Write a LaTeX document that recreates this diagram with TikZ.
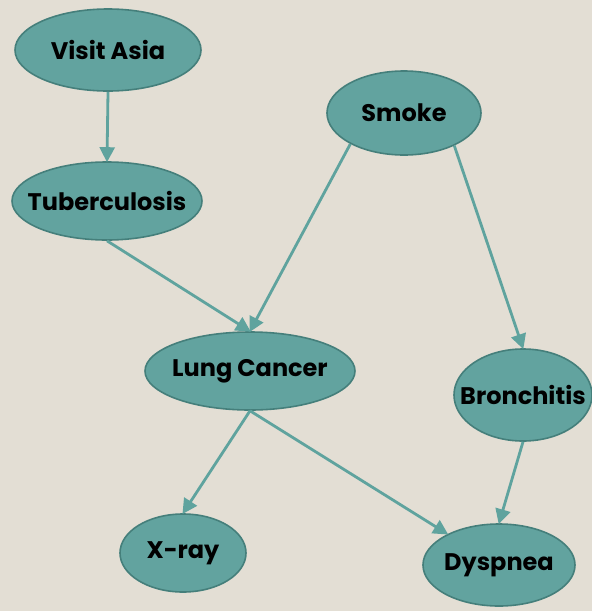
\documentclass[tikz,border=0pt]{standalone}
\usepackage{fontspec}
\setmainfont{Poppins}
\usetikzlibrary{shapes.geometric,arrows.meta}
\definecolor{bgc}{HTML}{E3DED4}
\definecolor{fillc}{HTML}{62A39F}
\definecolor{edgec}{HTML}{457F7B}
\definecolor{arrc}{HTML}{5FA39E}
\tikzset{
  ell/.style={ellipse, draw=edgec, line width=1.6pt, fill=fillc, inner sep=0pt},
  lbl/.style={font=\fontsize{24}{28}\selectfont\bfseries, text=black, inner sep=0pt},
  conn/.style={draw=arrc, line width=2.8pt, -{Triangle[length=15pt,width=15pt]}, shorten >=-1pt}
}
\begin{document}
\begin{tikzpicture}[x=1pt,y=-1pt]
\fill[bgc] (0,0) rectangle (592,611);
\useasboundingbox (0,0) rectangle (592,611);
\node[ell, minimum width=186pt, minimum height=82pt, label={[lbl]center:Visit Asia}] (va) at (108,50) {};
\node[ell, minimum width=190pt, minimum height=78pt, label={[lbl]center:Tuberculosis}] (tb) at (107,201) {};
\node[ell, minimum width=154pt, minimum height=84pt, label={[lbl]center:Smoke}] (sm) at (404,113) {};
\node[ell, minimum width=210pt, minimum height=78pt, label={[lbl]center:Lung Cancer}] (lc) at (250,371) {};
\node[ell, minimum width=138pt, minimum height=92pt, label={[lbl]center:Bronchitis}] (br) at (523,395) {};
\node[ell, minimum width=126pt, minimum height=78pt, label={[lbl]center:X-ray}] (xr) at (183,553) {};
\node[ell, minimum width=152pt, minimum height=82pt, label={[lbl]center:Dyspnea}] (dy) at (499,565) {};
\draw[conn] (va.south) -- (tb.north);
\draw[conn] (tb.south) -- (lc.north);
\draw[conn] (sm.210) -- (lc.north);
\draw[conn] (sm.-33) -- (br.north);
\draw[conn] (lc.south) -- (xr.north);
\draw[conn] (lc.south) -- (dy.149);
\draw[conn] (br.south) -- (dy.north);
\end{tikzpicture}
\end{document}
